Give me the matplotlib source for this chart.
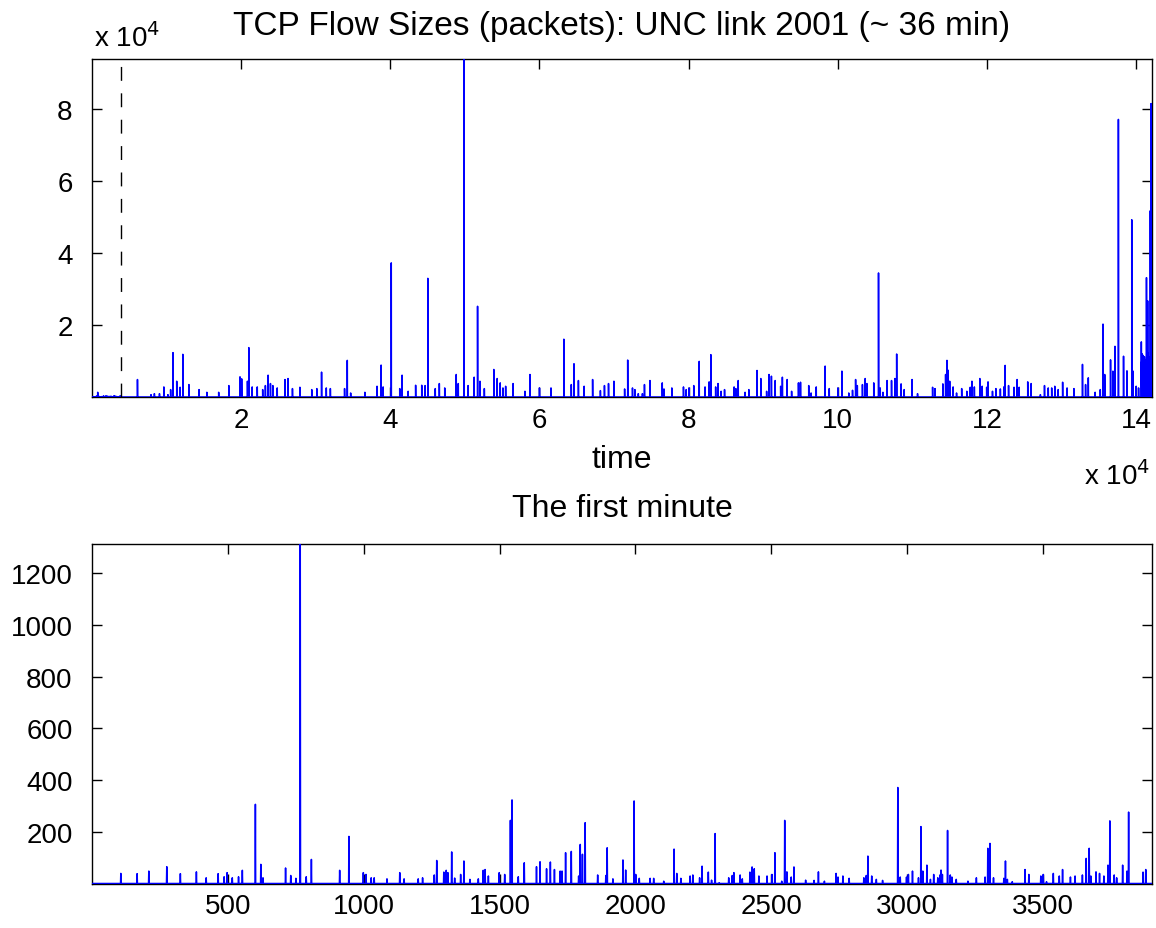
import numpy as np
import matplotlib
matplotlib.use("Agg")
import matplotlib.pyplot as plt

plt.rcParams['font.family'] = ['Liberation Sans', 'DejaVu Sans']

# ---- data: first minute (flow index, size in packets) ----
first_t = [107, 167, 210, 276, 326, 385, 421, 465, 487, 498, 517, 540, 554, 602, 622, 630,
           713, 732, 751, 767, 789, 808, 912, 946, 999, 1009, 1028, 1039, 1086, 1133, 1149,
           1201, 1217, 1260, 1269, 1295, 1304, 1310, 1324, 1335, 1357, 1369, 1391, 1422,
           1440, 1447, 1459, 1499, 1519, 1540, 1546, 1569, 1591, 1636, 1649, 1673, 1687,
           1702, 1723, 1730, 1743, 1764, 1791, 1797, 1805, 1815, 1861, 1891, 1896, 1917,
           1954, 1964, 1995, 2001, 2014, 2054, 2067, 2104, 2142, 2152, 2167, 2201, 2211,
           2236, 2245, 2268, 2280, 2293, 2308, 2343, 2356, 2362, 2385, 2393, 2421, 2429,
           2437, 2454, 2484, 2502, 2513, 2538, 2549, 2557, 2573, 2583, 2626, 2657, 2673,
           2695, 2738, 2745, 2763, 2786, 2840, 2849, 2855, 2869, 2886, 2909, 2965, 2974,
           2997, 3004, 3019, 3041, 3050, 3057, 3072, 3085, 3097, 3112, 3120, 3124, 3129,
           3148, 3158, 3164, 3180, 3223, 3254, 3286, 3296, 3304, 3317, 3355, 3361, 3368,
           3386, 3433, 3447, 3491, 3500, 3512, 3537, 3559, 3571, 3600, 3617, 3644, 3658,
           3669, 3675, 3694, 3707, 3723, 3738, 3745, 3761, 3770, 3792, 3808, 3814, 3867, 3877]
first_v = [40, 39, 49, 66, 39, 46, 23, 39, 27, 43, 23, 27, 52, 307, 75, 23,
           61, 32, 21, 1313, 27, 94, 52, 183, 43, 36, 23, 23, 19, 43, 19,
           19, 23, 34, 90, 45, 52, 43, 123, 22, 36, 88, 17, 19,
           52, 55, 30, 43, 36, 245, 324, 27, 81, 66, 85, 58, 84,
           55, 49, 49, 120, 125, 30, 152, 114, 236, 34, 32, 139, 19,
           92, 53, 320, 36, 21, 21, 21, 10, 134, 40, 21, 30, 34,
           23, 68, 45, 14, 194, 4, 23, 32, 43, 34, 19, 45, 65,
           58, 30, 30, 36, 120, 10, 245, 46, 26, 65, 14, 13, 46,
           10, 40, 26, 30, 21, 23, 32, 107, 30, 17, 13, 372, 26,
           26, 36, 49, 23, 221, 49, 72, 17, 36, 23, 34, 53, 36,
           206, 34, 26, 17, 10, 23, 26, 137, 156, 23, 21, 88, 17,
           8, 55, 36, 30, 36, 8, 40, 30, 55, 26, 30, 34, 98,
           137, 30, 46, 40, 30, 72, 243, 34, 23, 72, 49, 277, 45, 55]

# ---- data: whole trace, flows after the first minute ----
spike_t = [6098, 7913, 8367, 9048, 9638, 10182, 10545, 10863, 11362, 11816, 12179, 12996,
           14357, 15401, 16990, 18351, 19849, 20075, 20847, 21028, 21482, 22163, 22889,
           23252, 23615, 23933, 24250, 24840, 25884, 26292, 26882, 27881, 29469, 30150,
           30785, 31420, 31965, 33871, 34234, 34688, 36594, 38227, 38772, 39044, 40133,
           41268, 41585, 42402, 43401, 44218, 44671, 45034, 46033, 46577, 47303, 48846,
           49118, 49890, 50435, 51252, 51706, 52023, 52613, 53884, 54338, 54746, 55109,
           55472, 56470, 58058, 58739, 60010, 61553, 63278, 64275, 64638, 65228, 66000,
           67134, 68178, 68722, 69267, 69993,
           71426, 71839, 72481, 72803, 73262, 73812, 74088, 74822, 76474, 76703, 77759,
           79319, 79686, 80053, 80696, 81430, 82210, 82761, 82990, 83633, 83954, 84367,
           84826, 86111, 86340, 86661, 87579, 88084, 89185, 89690, 90470, 90791, 91112,
           91618, 92352, 92581, 93224, 93820, 94738, 95013, 96115, 96436, 97124, 98317,
           98868, 100015, 100566, 101484, 101989, 102402, 102631, 103319, 103686, 103916,
           104834, 105476, 105706, 106073, 106624, 107220, 107679, 107909, 108505, 108918,
           109974, 110708, 112727, 113048, 114104, 114471, 114654, 114792, 115021, 115480,
           115939, 116627, 117316, 117775, 118004, 118326, 119060, 119381, 119978, 120161,
           120758, 121216, 121813, 122272, 122456, 122914, 123649, 124062, 124337, 125484,
           125943, 127182, 127733, 128238, 128697, 129110, 129569, 130165, 130762, 131680,
           132827, 133240, 133607, 134525, 135213, 135580, 135809, 136590, 136911, 137186,
           137645, 138333, 138792, 139434, 139618, 140031, 140352, 140720, 140760, 140820,
           140900, 140950, 140990, 141060, 141130, 141180, 141220, 141290, 141410, 141470,
           141520, 141570, 141640, 141700, 141760, 141800, 141850, 141920, 141950, 142020,
           142060, 142100]
spike_v = [4860, 650, 930, 930, 2800, 650, 2060, 12340, 4390, 2710, 11870, 3460,
           2060, 1310, 1310, 3180, 5610, 5050, 4390, 13740, 2800, 2800, 2060,
           3180, 6070, 3740, 3180, 2520, 4860, 5140, 2340, 2710, 2060, 2340,
           6920, 2520, 2340, 2340, 10190, 1120, 1310, 2990, 8880, 2800, 37300,
           2340, 6070, 1590, 3270, 3270, 3180, 33000, 2340, 3740, 2520, 6260,
           3740, 94000, 3180, 5510, 25230, 4390, 2340, 7660, 5140, 3930, 2520,
           2990, 3740, 1590, 6260, 2520, 2520, 16080, 3460, 9250, 4580, 2990,
           4860, 1780, 3180, 3740, 4390,
           2240, 10280, 2520, 2060, 930, 930, 3460, 4580, 3930, 2240, 2520,
           2800, 2060, 2520, 3180, 9910, 2800, 4210, 11780, 2800, 3740, 1590,
           2060, 2800, 2340, 4580, 1310, 2060, 7380, 5140, 1590, 6260, 5790,
           4580, 2990, 5510, 4860, 1590, 3930, 4110, 3180, 1120, 2800, 8600,
           2340, 2520, 7200, 1120, 1870, 4860, 3180, 3460, 5140, 3740,
           3930, 34500, 2520, 1310, 4580, 4580, 5140, 11960, 3650, 2060,
           4860, 930, 2710, 2340, 3650, 6260, 10190, 7480, 4390, 2800,
           1120, 2340, 1590, 2710, 4390, 2800, 5140, 2990, 2710, 4210,
           1590, 2340, 2240, 2800, 8790, 3180, 2710, 4860, 2710, 4210,
           3740, 650, 3180, 2520, 2520, 2990, 2060, 4110, 2520, 2340,
           9070, 3460, 5330, 1310, 2060, 20280, 6260, 10330, 7200, 14100,
           77200, 11340, 7280, 49300, 7200, 2990, 2520, 15330, 9800, 12000,
           8500, 11590, 10500, 9000, 11200, 9530, 8800, 10400, 33190, 9700,
           12500, 26740, 9900, 10140, 11000, 10800, 8600, 51800, 10800, 81600,
           9400, 10200]

n_first = 3900
n_all = 142150

first_minute = np.ones(n_first)
first_minute[np.array(first_t) - 1] = first_v

all_flows = np.ones(n_all)
all_flows[:n_first] = first_minute
all_flows[np.array(spike_t) - 1] = spike_v

blue = (0, 0, 1)
fs_tick = 20
fs_lab = 23
W, H = 1156, 929

fig = plt.figure(figsize=(11.56, 9.29), dpi=100)

# top panel: whole trace
ax1 = fig.add_axes([92 / W, 1 - 398 / H, 1060 / W, 338 / H])
ax1.plot(np.arange(1, n_all + 1), all_flows, color=blue, lw=1.1, zorder=3)
ax1.plot([n_first, n_first], [1, all_flows.max()], color='black', lw=1.0,
         dashes=(10, 9), zorder=4)
ax1.set_xlim(1, n_all)
ax1.set_ylim(1, all_flows.max())
ax1.set_xticks(np.arange(2, 15, 2) * 1e4)
ax1.set_xticklabels([str(k) for k in range(2, 15, 2)])
ax1.set_yticks(np.arange(2, 9, 2) * 1e4)
ax1.set_yticklabels([str(k) for k in range(2, 9, 2)])

# bottom panel: first minute
ax2 = fig.add_axes([92 / W, 1 - 884.5 / H, 1060 / W, 339.5 / H])
ax2.plot(np.arange(1, n_first + 1), first_minute, color=blue, lw=1.1, zorder=3)
ax2.set_xlim(1, n_first)
ax2.set_ylim(1, first_minute.max())
ax2.set_xticks(np.arange(500, 3501, 500))
ax2.set_yticks(np.arange(200, 1201, 200))

for ax in (ax1, ax2):
    ax.tick_params(direction='in', length=7, width=1, labelsize=fs_tick,
                   top=True, right=True)
    ax.tick_params(axis='x', pad=7)
    ax.tick_params(axis='y', pad=14)
    for s in ax.spines.values():
        s.set_linewidth(1.0)

# texts placed in pixel positions of the figure
def px(x, y):
    return x / W, 1 - y / H

fig.text(*px(622, 26), 'TCP Flow Sizes (packets): UNC link 2001 (~ 36 min)',
         fontsize=24, ha='center', va='center')
fig.text(*px(94, 38), r'x 10$^{4}$', fontsize=fs_tick, ha='left', va='center')
fig.text(*px(622, 460), 'time', fontsize=fs_lab, ha='center', va='center')
fig.text(*px(1150, 476), r'x 10$^{4}$', fontsize=fs_tick, ha='right', va='center')
fig.text(*px(622, 509), 'The first minute', fontsize=fs_lab, ha='center', va='center')

fig.savefig('out.png', dpi=100)
